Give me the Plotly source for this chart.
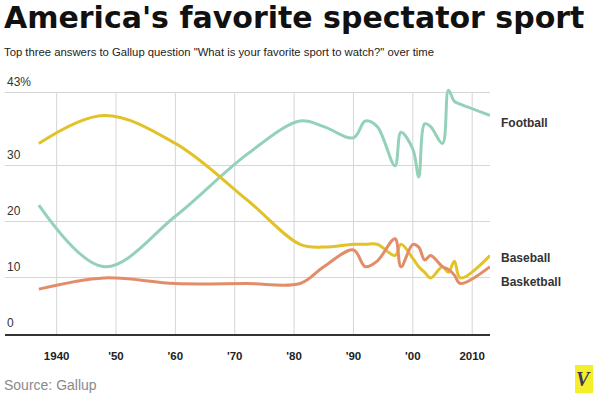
import plotly.graph_objects as go

years = [1937, 1948, 1960, 1972, 1981, 1985, 1990, 1992, 1994, 1997, 1998,
         2000, 2001, 2002, 2003, 2005, 2006, 2007, 2008, 2013]
football = [23, 12, 21, 32, 38, 37, 35, 38, 37, 30, 36,
            33, 28, 37.5, 37, 34, 43.5, 41.5, 41, 39]
baseball = [34, 39, 34, 24, 16, 15.5, 16, 16, 16, 14, 16,
            13.5, 12, 11, 10, 12, 11, 13, 10, 14]
basketball = [8, 10, 9, 9, 9, 12, 15, 12, 13, 17, 12,
              16, 15.5, 13.2, 14, 12, 11.5, 10.5, 9, 12]

series_names = ["Football", "Baseball", "Basketball"]
series_values = [football, baseball, basketball]
series_colors = ["#94d1b9", "#e3c229", "#e38d68"]
label_y = [37.7, 13.6, 9.3]

x_tickvals = [1940, 1950, 1960, 1970, 1980, 1990, 2000, 2010]
x_ticktext = ["1940", "'50", "'60", "'70", "'80", "'90", "'00", "2010"]
y_tickvals = [0, 10, 20, 30, 43]
y_ticktext = ["0", "10", "20", "30", "43%"]
y_top = 43

fig = go.Figure()

# vertical gridlines, stopping at the top (43%) line
for xv in x_tickvals:
    fig.add_shape(type="line", xref="x", yref="y", x0=xv, x1=xv, y0=0, y1=y_top,
                  line=dict(color="#d6d6d6", width=1), layer="below")

for name, vals, col in zip(series_names, series_values, series_colors):
    fig.add_trace(go.Scatter(x=years, y=vals, mode="lines", name=name,
                             line=dict(color=col, width=3, shape="spline", smoothing=1),
                             hoverinfo="skip"))

# y tick labels sitting above their gridlines
for tv, tt in zip(y_tickvals, y_ticktext):
    fig.add_annotation(x=0, xref="paper", y=tv, yref="y", text=tt, xanchor="left",
                       yanchor="bottom", xshift=0, yshift=2, showarrow=False,
                       font=dict(family="Liberation Sans", size=12, color="#333333"))

for name, ly in zip(series_names, label_y):
    fig.add_annotation(x=1, xref="paper", y=ly, yref="y", text="<b>" + name + "</b>",
                       xanchor="left", yanchor="middle", xshift=9, showarrow=False,
                       font=dict(family="Liberation Sans", size=12, color="#333333"))

fig.add_annotation(x=0, xref="paper", y=1.268, yref="paper", xanchor="left", yanchor="middle",
                   text="<b>America's favorite spectator sport</b>", showarrow=False, xshift=-3,
                   font=dict(family="DejaVu Sans", size=30, color="#111111"))
fig.add_annotation(x=0, xref="paper", y=1.128, yref="paper", xanchor="left", yanchor="middle",
                   text='Top three answers to Gallup question "What is your favorite sport to watch?" over time',
                   showarrow=False, xshift=-3,
                   font=dict(family="Liberation Sans", size=11.3, color="#222222"))
fig.add_annotation(x=0, xref="paper", y=-0.204, yref="paper", xanchor="left", yanchor="middle",
                   text="Source: Gallup", showarrow=False, xshift=-3,
                   font=dict(family="Liberation Sans", size=14, color="#8a8a8a"))

# logo
fig.add_shape(type="rect", xref="paper", yref="paper", x0=1.1753, x1=1.2124, y0=-0.236, y1=-0.124,
              fillcolor="#f5ee2a", line=dict(width=0), layer="above")
fig.add_annotation(x=1.1938, xref="paper", y=-0.18, yref="paper", xanchor="center", yanchor="middle",
                   text="<b><i>V</i></b>", showarrow=False,
                   font=dict(family="Liberation Serif", size=20, color="#3b3561"))

fig.update_layout(
    width=595, height=397,
    margin=dict(l=5, r=105, t=84, b=63),
    paper_bgcolor="white", plot_bgcolor="white",
    showlegend=False,
    xaxis=dict(range=[1931.3, 2013], tickvals=x_tickvals, ticktext=x_ticktext,
               showgrid=False,
               showline=True, linecolor="#333333", linewidth=1.5,
               ticks="", zeroline=False, ticklabelstandoff=10,
               tickfont=dict(family="Liberation Sans", size=11.5, color="#222222", weight="bold")),
    yaxis=dict(range=[0, 44.6], tickvals=y_tickvals,
               showgrid=True, gridcolor="#d6d6d6", gridwidth=1,
               zeroline=False, showline=False, ticks="", showticklabels=False),
)

fig.write_html("out.html", config={"displayModeBar": False},
               post_script="document.body.style.margin='0';")
